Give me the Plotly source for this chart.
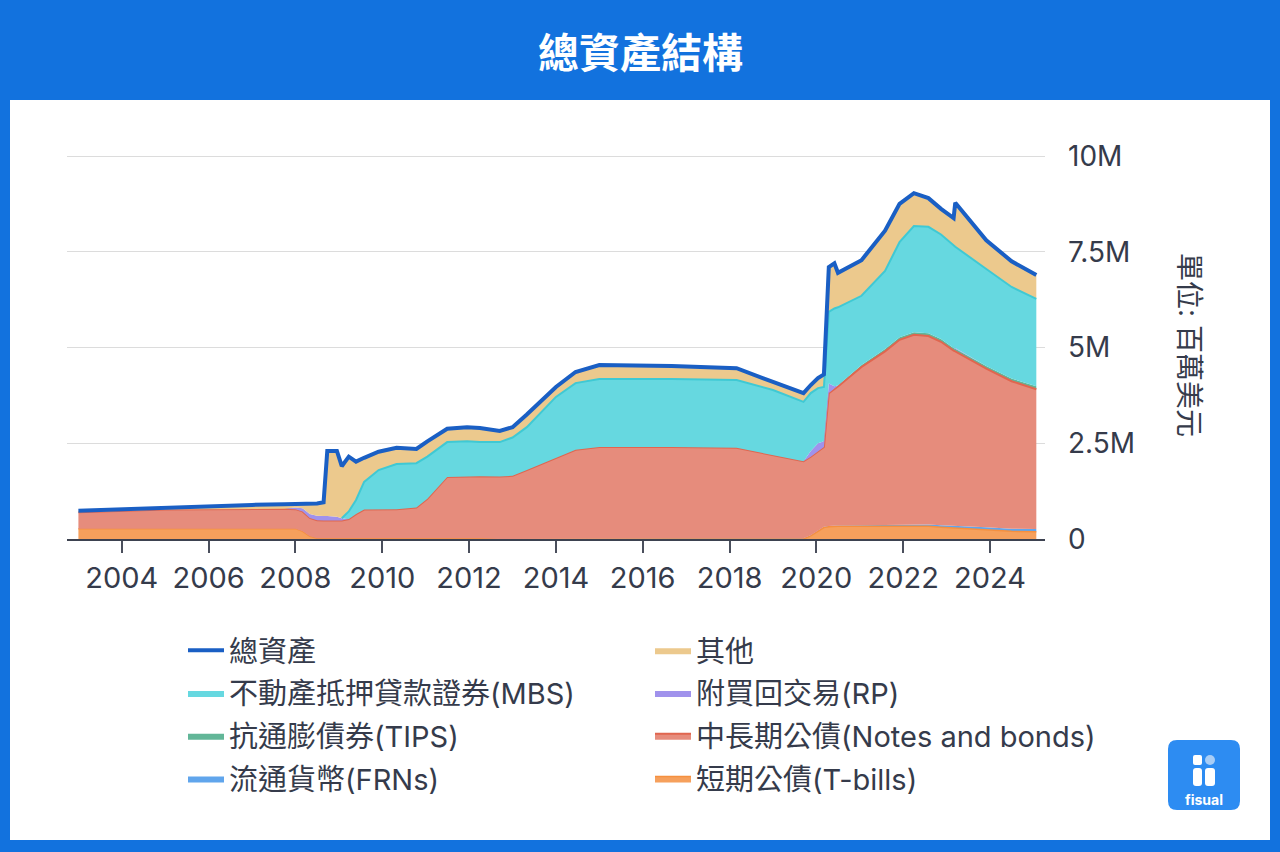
import plotly.graph_objects as go

# ---------------- data (values in "M" units as shown on the axis) ----------------
dates = ["2003-01-01", "2004-01-01", "2005-01-01", "2006-01-01", "2007-01-01", "2007-10-01",
         "2008-01-01", "2008-03-01", "2008-05-01", "2008-07-01", "2008-08-25", "2008-09-25",
         "2008-12-15", "2009-01-25", "2009-03-25", "2009-05-25", "2009-08-01", "2009-12-01",
         "2010-05-01", "2010-10-15", "2011-01-15", "2011-07-01", "2011-12-15", "2012-04-01",
         "2012-09-15", "2013-01-01", "2013-05-01", "2014-01-01", "2014-06-15", "2015-01-01",
         "2016-09-01", "2018-03-01", "2019-01-01", "2019-09-15", "2019-11-15", "2020-01-15",
         "2020-03-05", "2020-04-15", "2020-06-01", "2020-07-01", "2021-01-15", "2021-08-01",
         "2021-12-01", "2022-04-01", "2022-08-01", "2022-11-15", "2023-03-01", "2023-03-15",
         "2023-12-01", "2024-07-01", "2025-01-25"]

total = [0.74, 0.78, 0.83, 0.86, 0.89, 0.91, 0.92, 0.92, 0.92, 0.93, 0.96, 2.30, 2.30, 1.90,
         2.15, 2.02, 2.12, 2.28, 2.38, 2.35, 2.55, 2.88, 2.92, 2.90, 2.82, 2.92, 3.25, 3.97,
         4.36, 4.54, 4.52, 4.46, 4.10, 3.81, 4.02, 4.20, 4.30, 7.10, 7.20, 6.95, 7.28, 8.05,
         8.75, 9.03, 8.90, 8.62, 8.38, 8.78, 7.80, 7.25, 6.89]

other = [0.04, 0.04, 0.06, 0.08, 0.10, 0.12, 0.10, 0.12, 0.27, 0.32, 0.36, 1.70, 1.72, 1.36,
         1.43, 1.00, 0.63, 0.48, 0.42, 0.37, 0.40, 0.35, 0.37, 0.37, 0.29, 0.27, 0.33, 0.26,
         0.29, 0.36, 0.34, 0.31, 0.21, 0.23, 0.21, 0.26, 0.33, 1.17, 1.18, 0.90, 0.93, 1.05,
         1.00, 0.86, 0.75, 0.67, 0.73, 1.15, 0.75, 0.67, 0.62]

mbs = [0, 0, 0, 0, 0, 0, 0, 0, 0, 0, 0, 0, 0, 0,
       0.20, 0.37, 0.72, 1.02, 1.18, 1.16, 1.10, 0.91, 0.91, 0.89, 0.90, 1.00, 1.12, 1.60,
       1.74, 1.78, 1.78, 1.77, 1.69, 1.55, 1.51, 1.44, 1.42, 1.87, 2.03, 2.04, 1.81, 2.04,
       2.48, 2.77, 2.78, 2.73, 2.66, 2.64, 2.53, 2.39, 2.28]

rp = [0, 0, 0, 0, 0, 0, 0.04, 0.08, 0.10, 0.12, 0.12, 0.12, 0.10, 0.06,
      0, 0, 0, 0, 0, 0, 0, 0, 0, 0, 0, 0, 0, 0, 0, 0, 0, 0, 0, 0,
      0.15, 0.20, 0.15, 0.25, 0.05, 0, 0, 0, 0, 0, 0, 0, 0, 0.02, 0, 0, 0]

tips = [0] * 38 + [0.02, 0.03, 0.05, 0.06, 0.07, 0.07, 0.07, 0.07, 0.07, 0.07, 0.07, 0.07, 0.08]

notes = [0.43, 0.47, 0.49, 0.50, 0.51, 0.51, 0.51, 0.52, 0.48, 0.47, 0.46, 0.46, 0.46, 0.46,
         0.50, 0.63, 0.75, 0.76, 0.76, 0.80, 1.03, 1.60, 1.62, 1.62, 1.63, 1.65, 1.80, 2.11,
         2.32, 2.39, 2.38, 2.36, 2.18, 2.01, 2.05, 2.08, 2.08, 3.47, 3.57, 3.63, 4.13, 4.53,
         4.82, 4.95, 4.92, 4.79, 4.57, 4.55, 4.14, 3.85, 3.65]

frns = [0] * 28 + [0.01, 0.01, 0.02, 0.02, 0.02, 0.02, 0.02, 0.02, 0.02, 0.02, 0.02, 0.02,
                   0.03, 0.04, 0.05, 0.05, 0.05, 0.05, 0.06, 0.06, 0.07, 0.07, 0.07]

tbills = [0.27, 0.27, 0.28, 0.28, 0.28, 0.28, 0.27, 0.20, 0.07, 0.02] + [0.02] * 14 + [0] * 10 + \
         [0.08, 0.20, 0.30, 0.32, 0.33, 0.33, 0.33, 0.33, 0.33, 0.33, 0.33, 0.31, 0.29, 0.29,
          0.24, 0.20, 0.19]

y_tickvals = [0, 2.5, 5, 7.5, 10]
y_ticktext = ["0", "2.5M", "5M", "7.5M", "10M"]

names = {
    "total": "總資產",
    "other": "其他",
    "mbs": "不動產抵押貸款證券(MBS)",
    "rp": "附買回交易(RP)",
    "tips": "抗通膨債券(TIPS)",
    "notes": "中長期公債(Notes and bonds)",
    "frns": "流通貨幣(FRNs)",
    "tbills": "短期公債(T-bills)",
}

# ---------------- styling ----------------
BLUE_BG = "#1272de"
TEXT = "#353b4b"
FONT = "Inter, Liberation Sans, Noto Sans CJK TC, sans-serif"
CJK = "Noto Sans CJK TC, sans-serif"

L, R, T, B = 67, 1045, 154, 539
W, H = 1280, 852
Y_TOP = (B - T) / 38.3  # 10M sits at pixel 156


def px(x):
    return (x - L) / (R - L)


def py(y):
    return (B - y) / (B - T)


fig = go.Figure()

# stacking order bottom -> top: (key, values, fill, line colour, line width, legend, rank)
stack = [
    ("tbills", tbills, "rgb(246,160,92)", "#f5903f", 1.5, "legend2", 4),
    ("frns", frns, "rgb(96,165,236)", "#6aa6e6", 0, "legend", 4),
    ("notes", notes, "rgb(230,140,124)", "#e0664f", 2, "legend2", 3),
    ("tips", tips, "rgb(98,182,152)", "#4fa888", 0, "legend", 3),
    ("rp", rp, "rgb(160,146,236)", "#8f7ff0", 0, "legend2", 2),
    ("mbs", mbs, "rgb(102,216,224)", "#3fc9d4", 0, "legend", 2),
    ("other", other, "rgb(236,201,141)", "#e8c07e", 0, "legend2", 1),
]

for key, vals, fillc, linec, lw, leg, rank in stack:
    fig.add_trace(go.Scatter(
        x=dates, y=vals, name=names[key], stackgroup="one", mode="lines",
        line=dict(color=linec, width=lw), fillcolor=fillc,
        legend=leg, legendrank=rank, legendgroup=key,
        hoverinfo="skip",
    ))

# top edge of the MBS band (only where MBS exists)
mbs_top = []
for i in range(len(dates)):
    cum = tbills[i] + frns[i] + notes[i] + tips[i] + rp[i] + mbs[i]
    started = any(v > 0 for v in mbs[:i + 2])
    mbs_top.append(cum if started else None)

fig.add_trace(go.Scatter(
    x=dates, y=mbs_top, mode="lines", line=dict(color="#3fc9d4", width=2),
    showlegend=False, hoverinfo="skip",
))

fig.add_trace(go.Scatter(
    x=dates, y=total, name=names["total"], mode="lines",
    line=dict(color="#1a5fc4", width=4),
    legend="legend", legendrank=1, legendgroup="total", hoverinfo="skip",
))

shapes = [
    dict(type="rect", xref="paper", yref="paper", x0=px(10), x1=px(1270), y0=py(840), y1=py(100),
         fillcolor="white", line=dict(width=0), layer="below"),
]


def rounded_rect(x0, y0, x1, y1, r):
    rx = r / (R - L)
    ry = r / (B - T)
    a0, a1 = px(x0), px(x1)
    b0, b1 = py(y1), py(y0)  # b0 bottom, b1 top
    return (f"M{a0 + rx},{b0} L{a1 - rx},{b0} Q{a1},{b0} {a1},{b0 + ry} "
            f"L{a1},{b1 - ry} Q{a1},{b1} {a1 - rx},{b1} L{a0 + rx},{b1} "
            f"Q{a0},{b1} {a0},{b1 - ry} L{a0},{b0 + ry} Q{a0},{b0} {a0 + rx},{b0} Z")


# logo
shapes.append(dict(type="path", xref="paper", yref="paper", path=rounded_rect(1168, 740, 1240, 810, 9),
                   fillcolor="#2d8cf2", line=dict(width=0)))
shapes.append(dict(type="path", xref="paper", yref="paper", path=rounded_rect(1193, 755, 1202, 765, 2),
                   fillcolor="white", line=dict(width=0)))
shapes.append(dict(type="path", xref="paper", yref="paper", path=rounded_rect(1193, 768, 1202, 786, 3),
                   fillcolor="white", line=dict(width=0)))
shapes.append(dict(type="circle", xref="paper", yref="paper", x0=px(1205), x1=px(1215), y0=py(765), y1=py(755),
                   fillcolor="#a8cdf6", line=dict(width=0)))
shapes.append(dict(type="path", xref="paper", yref="paper", path=rounded_rect(1205, 768, 1215, 786, 3),
                   fillcolor="white", line=dict(width=0)))

annotations = [
    dict(text="<b>總資產結構</b>", x=px(640), y=py(50), xref="paper", yref="paper",
         showarrow=False, xanchor="center", yanchor="middle",
         font=dict(family=CJK, size=41, color="white")),
    dict(text="單位: 百萬美元", x=px(1189), y=py(345), xref="paper", yref="paper",
         showarrow=False, xanchor="center", yanchor="middle", textangle=90,
         font=dict(family=FONT, size=28, color=TEXT)),
    dict(text="<b>fisual</b>", x=px(1204), y=py(799), xref="paper", yref="paper",
         showarrow=False, xanchor="center", yanchor="middle",
         font=dict(family="Inter, Liberation Sans, sans-serif", size=14, color="white")),
]

legend_common = dict(
    orientation="v", xanchor="left", yanchor="top",
    font=dict(family=FONT, size=29, color=TEXT),
    itemwidth=36, tracegroupgap=2, traceorder="grouped",
    bgcolor="rgba(0,0,0,0)", borderwidth=0, valign="middle",
)

fig.update_layout(
    width=W, height=H, autosize=False,
    margin=dict(l=L, r=W - R, t=T, b=H - B),
    paper_bgcolor=BLUE_BG, plot_bgcolor="white",
    showlegend=True,
    legend=dict(x=px(183), y=py(625), **legend_common),
    legend2=dict(x=px(650), y=py(625), **legend_common),
    shapes=shapes, annotations=annotations,
    xaxis=dict(
        type="date", range=["2002-09-27", "2025-04-08"],
        tick0="2004-01-01", dtick="M24", tickformat="%Y",
        showgrid=False, zeroline=False,
        showline=True, linecolor="#3d4250", linewidth=1.5,
        ticks="outside", ticklen=12, tickwidth=1.5, tickcolor="#4a4f5c",
        tickfont=dict(family=FONT, size=29, color=TEXT),
    ),
    yaxis=dict(
        side="right", range=[0, Y_TOP], tickvals=y_tickvals, ticktext=y_ticktext,
        showgrid=True, gridcolor="#dcdcdc", gridwidth=1, zeroline=False,
        showline=False, ticks="", ticklabelstandoff=22,
        tickfont=dict(family=FONT, size=28, color=TEXT),
    ),
)

fig.write_html(
    "out.html",
    config={"displayModeBar": False},
    post_script="document.body.style.margin='0px';document.body.style.padding='0px';",
)
